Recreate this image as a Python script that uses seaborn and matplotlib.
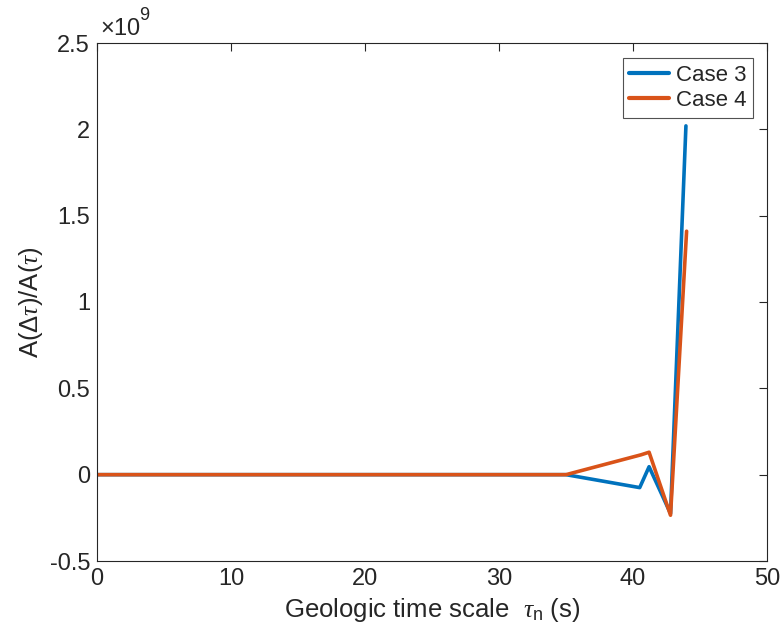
import matplotlib
matplotlib.use("Agg")
import matplotlib.pyplot as plt
import seaborn as sns
import pandas as pd
import numpy as np

# Data (values in units of 1e9)
tau_case3 = [0, 5, 10, 15, 20, 25, 30, 35, 40.5, 41.2, 42.8, 43.95]
val_case3 = [0, 0, 0, 0, 0, 0, 0, 0, -0.075, 0.046, -0.225, 2.02]
tau_case4 = [0, 5, 10, 15, 20, 25, 30, 35, 40.6, 41.2, 42.8, 44.0]
val_case4 = [0, 0, 0, 0, 0, 0, 0, 0, 0.115, 0.13, -0.235, 1.41]
series_names = ["Case 3", "Case 4"]
colors = ["#0072BD", "#D95319"]
xticks = [0, 10, 20, 30, 40, 50]
yticks = [-0.5, 0, 0.5, 1, 1.5, 2, 2.5]
ytick_labels = ["-0.5", "0", "0.5", "1", "1.5", "2", "2.5"]

df = pd.concat([
    pd.DataFrame({"tau": tau_case3, "val": np.array(val_case3) * 1e9, "case": series_names[0]}),
    pd.DataFrame({"tau": tau_case4, "val": np.array(val_case4) * 1e9, "case": series_names[1]}),
])

sns.set_style("white")
plt.rcParams["font.family"] = ["Liberation Sans", "DejaVu Sans"]
plt.rcParams["mathtext.fontset"] = "custom"
plt.rcParams["mathtext.rm"] = "Liberation Sans"
plt.rcParams["mathtext.it"] = "Liberation Serif:italic"
plt.rcParams["mathtext.sf"] = "Liberation Sans"

fig = plt.figure(figsize=(7.83, 6.42), dpi=100)
ax = fig.add_axes([97/783, 1 - 561/642, 670/783, (561 - 43)/642])

sns.lineplot(data=df, x="tau", y="val", hue="case", palette=colors,
             linewidth=2.6, ax=ax, sort=False, estimator=None)

dark = "#262626"
ax.set_xlim(0, 50)
ax.set_ylim(-0.5e9, 2.5e9)
ax.set_xticks(xticks)
ax.set_xticklabels([str(t) for t in xticks])
ax.set_yticks([v * 1e9 for v in yticks])
ax.set_yticklabels(ytick_labels)
ax.tick_params(direction="in", length=6, width=0.8, labelsize=17, colors=dark,
               top=True, right=True, labelcolor=dark, pad=5)
for s in ax.spines.values():
    s.set_color(dark)
    s.set_linewidth(0.8)

ax.text(0.004, 1.006, r"$\times$10", transform=ax.transAxes, fontsize=17,
        color=dark, ha="left", va="bottom")
ax.text(0.063, 1.036, "9", transform=ax.transAxes, fontsize=13,
        color=dark, ha="left", va="bottom")

ax.set_xlabel(r"Geologic time scale  $\mathit{\tau}_{\mathrm{n}}$ (s)", fontsize=18.5, color=dark, labelpad=4)
ax.set_ylabel(r"A($\Delta\mathit{\tau}$)/A($\mathit{\tau}$)", fontsize=18.5, color=dark, labelpad=3)

leg = ax.legend(loc="upper right", bbox_to_anchor=(1 - 14/670, 1 - 15/518),
                fontsize=16, frameon=True, fancybox=False, edgecolor=dark,
                borderpad=0.3, handlelength=1.8, handletextpad=0.3,
                labelspacing=0.2, borderaxespad=0)
leg.get_frame().set_linewidth(0.8)
for line in leg.get_lines():
    line.set_linewidth(3)

fig.savefig("out.png", dpi=100)
